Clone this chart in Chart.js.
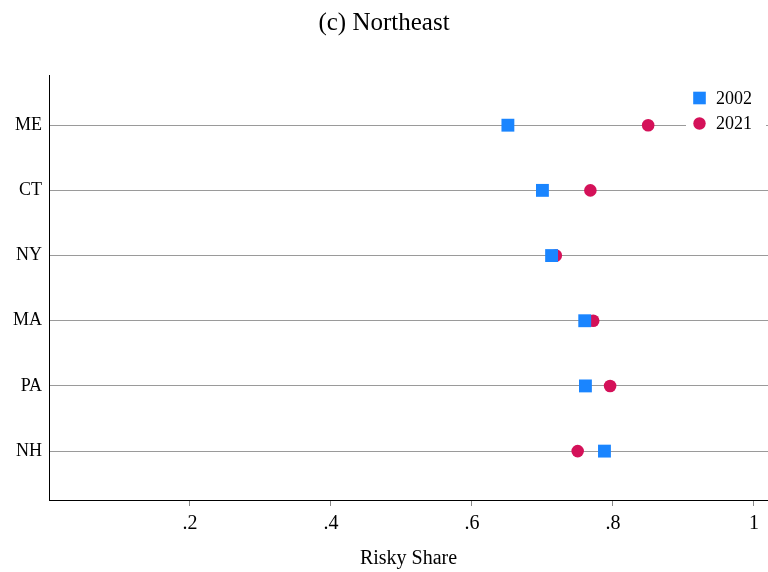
<!DOCTYPE html>
<html>
<head>
<meta charset="utf-8">
<script src="https://cdn.jsdelivr.net/npm/chart.js@4"></script>
<style>
  html, body { margin: 0; padding: 0; background: #fff; overflow: hidden; }
  #wrap { width: 768px; height: 572px; }
  canvas { display: block; }
</style>
</head>
<body>
<div id="wrap"><canvas id="grafico"></canvas></div>
<script>
// Dados
const states = ['ME', 'CT', 'NY', 'MA', 'PA', 'NH'];
const share2002 = [0.651, 0.700, 0.713, 0.760, 0.761, 0.788];
const share2021 = [0.850, 0.768, 0.719, 0.772, 0.796, 0.750];
const xTicks = [0.2, 0.4, 0.6, 0.8, 1];

const blue = '#1a85ff';
const crimson = '#d41159';
const serif = "'Liberation Serif', 'DejaVu Serif', serif";

// ME fica no topo
const yPos = i => states.length - i;

const toPoints = arr => arr.map((v, i) => ({ x: v, y: yPos(i) }));

// Legenda desenhada dentro da área do gráfico (canto superior direito)
const legendaInterna = {
  id: 'legendaInterna',
  afterDatasetsDraw(chart) {
    const ctx = chart.ctx;
    const area = chart.chartArea;
    const x0 = area.right - 82;
    const y0 = area.top + 10;
    ctx.save();
    ctx.fillStyle = '#fff';
    ctx.fillRect(x0, y0, 80, 54);
    chart.data.datasets.forEach((ds, k) => {
      const cy = y0 + 13 + k * 25.5;
      const cx = x0 + 13.5;
      ctx.fillStyle = ds.backgroundColor;
      if (ds.pointStyle === 'rect') {
        ctx.fillRect(cx - 6.3, cy - 6.3, 12.6, 12.6);
      } else {
        ctx.beginPath();
        ctx.arc(cx, cy, 6.2, 0, Math.PI * 2);
        ctx.fill();
      }
      ctx.fillStyle = '#000';
      ctx.font = '18px ' + serif;
      ctx.textBaseline = 'middle';
      ctx.textAlign = 'left';
      ctx.fillText(ds.label, cx + 16.5, cy + 1);
    });
    ctx.restore();
  }
};

new Chart(document.getElementById('grafico'), {
  type: 'scatter',
  data: {
    datasets: [
      {
        label: '2002',
        data: toPoints(share2002),
        backgroundColor: blue,
        borderWidth: 0,
        pointStyle: 'rect',
        pointRadius: 9.1,
        pointHoverRadius: 9.1
      },
      {
        label: '2021',
        data: toPoints(share2021),
        backgroundColor: crimson,
        borderWidth: 0,
        pointStyle: 'circle',
        pointRadius: 6.3,
        pointHoverRadius: 6.3
      }
    ]
  },
  options: {
    responsive: true,
    maintainAspectRatio: false,
    animation: false,
    layout: { padding: 0, autoPadding: false },
    plugins: {
      legend: { display: false },
      tooltip: { enabled: false },
      title: {
        display: true,
        text: '(c) Northeast',
        color: '#000',
        font: { family: serif, size: 25, weight: 'normal', lineHeight: 1.2 },
        padding: { top: 8, bottom: 37 }
      }
    },
    scales: {
      x: {
        type: 'linear',
        min: 0,
        max: 1.02,
        afterBuildTicks: scale => { scale.ticks = xTicks.map(v => ({ value: v })); },
        afterFit: scale => {
          scale.height = 72;
          scale.paddingLeft = 0;
          scale.paddingRight = 0;
        },
        border: { color: '#000', width: 1 },
        grid: { drawOnChartArea: false, drawTicks: true, tickLength: 6, color: '#888' },
        ticks: {
          color: '#000',
          padding: 6,
          maxRotation: 0,
          font: { family: serif, size: 20 },
          callback: v => (v === 1 ? '1' : String(v).replace('0.', '.'))
        },
        title: {
          display: true,
          text: 'Risky Share',
          color: '#000',
          font: { family: serif, size: 20 },
          padding: { top: 0, bottom: 1 }
        }
      },
      y: {
        type: 'linear',
        min: 0.25,
        max: 6.77,
        afterBuildTicks: scale => { scale.ticks = states.map((s, i) => ({ value: yPos(i) })); },
        afterFit: scale => { scale.width = 49; },
        border: { color: '#000', width: 1 },
        grid: { drawTicks: false, color: '#9a9a9a', lineWidth: 1 },
        ticks: {
          color: '#000',
          padding: 7,
          font: { family: serif, size: 18 },
          callback: v => states[states.length - v]
        }
      }
    }
  },
  plugins: [legendaInterna]
});
</script>
</body>
</html>
